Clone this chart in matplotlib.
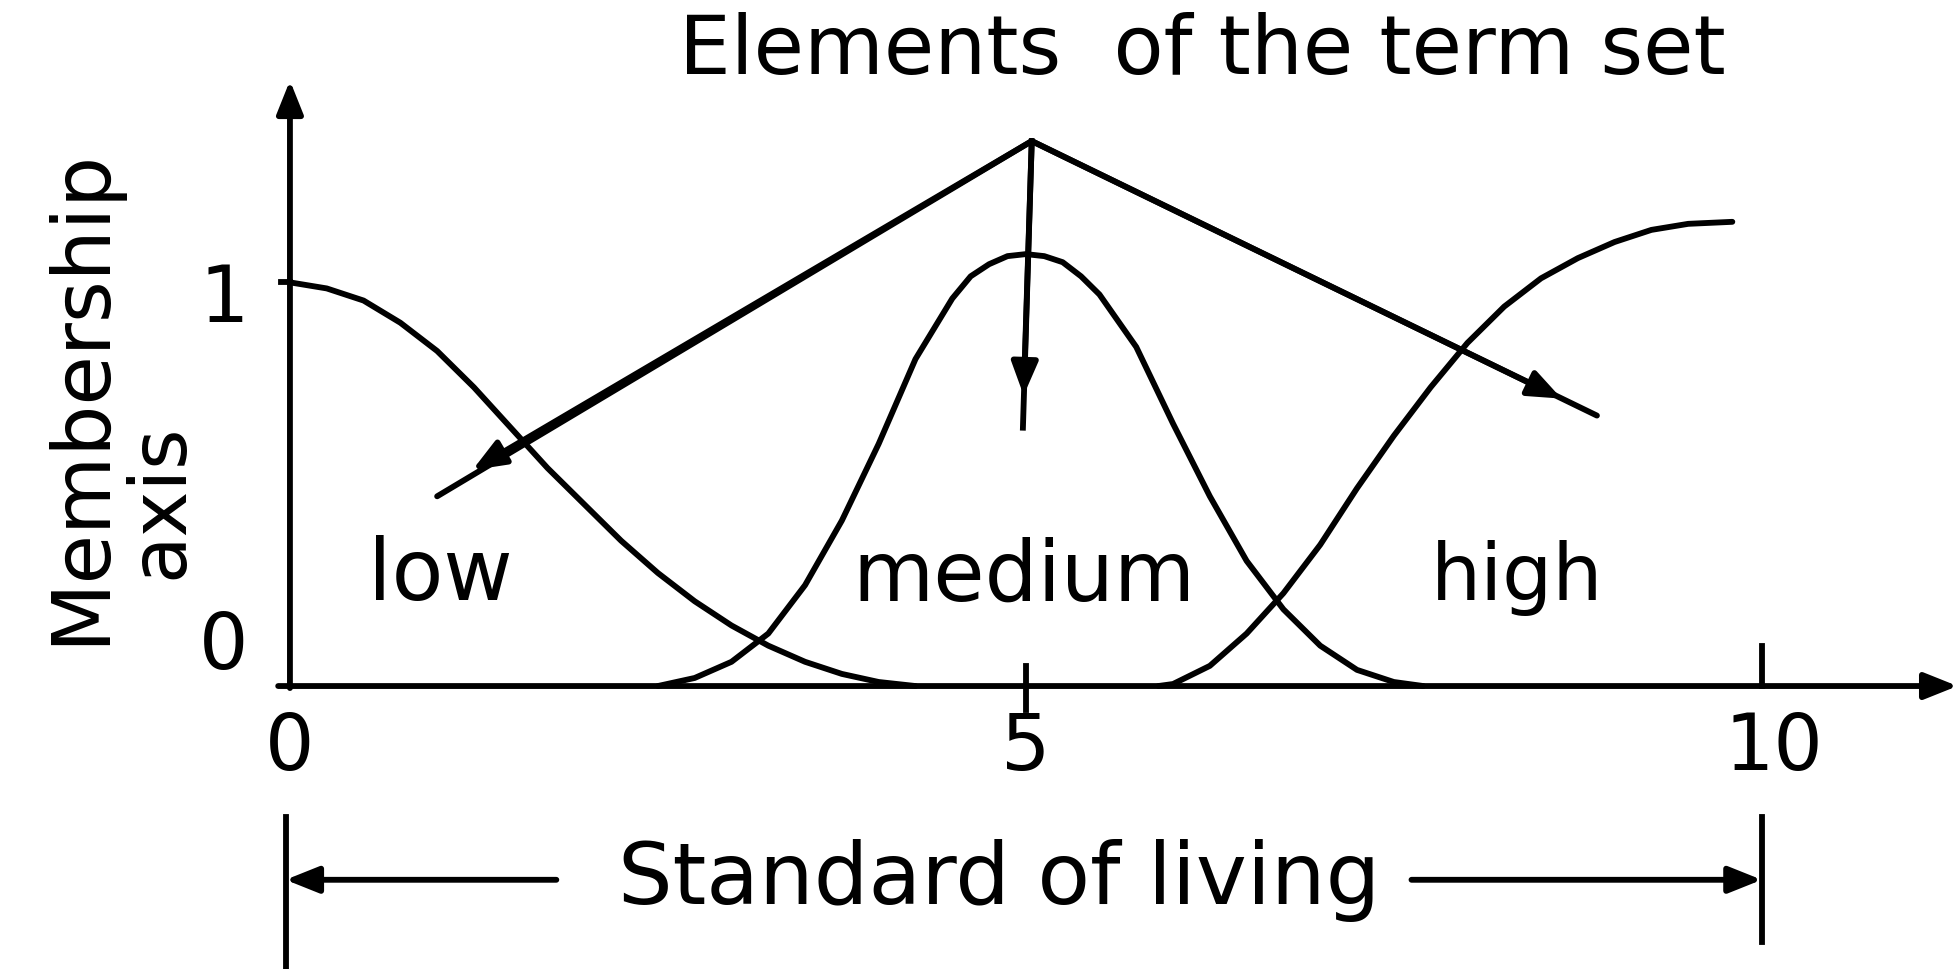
import matplotlib
matplotlib.use("Agg")
import matplotlib.pyplot as plt

# ---- data ----
low_x = [0.0, 0.25, 0.5, 0.75, 1.0, 1.25, 1.5, 1.75, 2.0, 2.25, 2.5, 2.75, 3.0, 3.25, 3.5, 3.75, 4.0, 4.25]
low_y = [1.00, 0.985, 0.955, 0.90, 0.83, 0.74, 0.64, 0.54, 0.45, 0.36, 0.28, 0.21, 0.15, 0.10, 0.06, 0.03, 0.01, 0.0]

medium_x = [2.5, 2.75, 3.0, 3.25, 3.5, 3.75, 4.0, 4.25, 4.5, 4.625, 4.75, 4.875, 5.0, 5.125, 5.25, 5.375,
            5.5, 5.75, 6.0, 6.25, 6.5, 6.75, 7.0, 7.25, 7.5, 7.7]
medium_y = [0.0, 0.02, 0.06, 0.13, 0.25, 0.41, 0.60, 0.81, 0.96, 1.015, 1.045, 1.065, 1.07, 1.065, 1.05, 1.015,
            0.97, 0.84, 0.65, 0.47, 0.31, 0.19, 0.10, 0.04, 0.01, 0.0]

high_x = [5.9, 6.0, 6.25, 6.5, 6.75, 7.0, 7.25, 7.5, 7.75, 8.0, 8.25, 8.5, 8.75, 9.0, 9.25, 9.5, 9.8]
high_y = [0.0, 0.005, 0.05, 0.13, 0.23, 0.35, 0.49, 0.62, 0.74, 0.85, 0.94, 1.01, 1.06, 1.10, 1.13, 1.145, 1.15]

term_labels = ["low", "medium", "high"]
term_label_x = [1.02, 4.99, 8.34]
x_ticks = [0, 5, 10]
x_tick_labels = ["0", "5", "10"]
y_ticks = [0, 1]
y_tick_labels = ["0", "1"]

# ---- figure ----
fig = plt.figure(figsize=(19.59, 9.70), dpi=100)
ax = fig.add_axes([0, 0, 1, 1])
ax.set_xlim(-1.97, 11.34)
ax.set_ylim(-0.701, 1.702)
ax.axis("off")

LW = 4.2
font = "DejaVu Sans"
arrow = dict(arrowstyle="-|>,head_length=0.5,head_width=0.2", lw=LW, color="black",
             mutation_scale=40, shrinkA=0, shrinkB=0)

# curves
for xs, ys in [(low_x, low_y), (medium_x, medium_y), (high_x, high_y)]:
    ax.plot(xs, ys, color="black", lw=LW, solid_capstyle="round", solid_joinstyle="round")

# axes
ax.annotate("", xy=(0, 1.50), xytext=(0, -0.005), arrowprops=arrow)
ax.annotate("", xy=(11.33, 0.0), xytext=(-0.08, 0.0), arrowprops=arrow)
ax.plot([5, 5], [-0.06, 0.05], color="black", lw=LW)
ax.plot([10, 10], [0.0, 0.10], color="black", lw=LW)
ax.plot([-0.06, 0.0], [1.0, 1.0], color="black", lw=LW)

# tick labels
for t, lab in zip(x_ticks, x_tick_labels):
    ax.text(t + (0.08 if t == 10 else 0), -0.15, lab, fontsize=56, family=font, ha="center", va="center")
for t, lab in zip(y_ticks, y_tick_labels):
    ax.text(-0.45, t + (0.10 if t == 0 else -0.04), lab, fontsize=56, family=font, ha="center", va="center")

# term labels
term_sizes = [61, 60, 57]
for lab, xc, fs in zip(term_labels, term_label_x, term_sizes):
    ax.text(xc, 0.215, lab, fontsize=fs, family=font, ha="center", va="baseline")

# "elements of the term set" arrows
apex = (5.04, 1.35)
ax.plot([apex[0], 1.0], [apex[1], 0.47], color="black", lw=LW, solid_capstyle="round")
ax.annotate("", xy=(1.24, 0.535), xytext=apex, arrowprops=arrow)
ax.plot([apex[0], 8.88], [apex[1], 0.67], color="black", lw=LW, solid_capstyle="round")
ax.annotate("", xy=(8.64, 0.712), xytext=apex, arrowprops=arrow)
ax.plot([apex[0], 4.98], [apex[1], 0.64], color="black", lw=LW)
ax.annotate("", xy=(4.985, 0.72), xytext=apex, arrowprops=arrow)

ax.text(6.20, 1.575, "Elements  of the term set", fontsize=59, family=font, ha="center", va="center")

# y label
ax.text(-1.42, 0.72, "Membership", fontsize=58, family=font, rotation=90, ha="center", va="center")
ax.text(-0.88, 0.46, "axis", fontsize=56, family=font, rotation=90, ha="center", va="center")

# bottom dimension line
ax.plot([-0.03, -0.03], [-0.325, -0.70], color="black", lw=LW)
ax.plot([10.0, 10.0], [-0.325, -0.635], color="black", lw=LW)
ax.annotate("", xy=(-0.03, -0.48), xytext=(1.81, -0.48), arrowprops=arrow)
ax.annotate("", xy=(10.0, -0.48), xytext=(7.62, -0.48), arrowprops=arrow)
ax.text(4.82, -0.48, "Standard of living", fontsize=62, family=font, ha="center", va="center")

fig.savefig("out.png", dpi=100, facecolor="white")
